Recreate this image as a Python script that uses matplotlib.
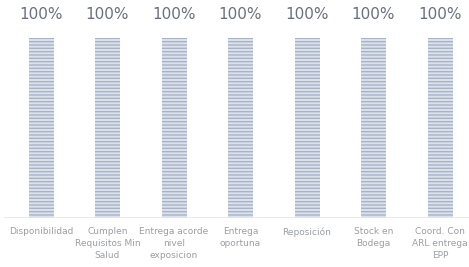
import matplotlib.pyplot as plt

categories = ['Disponibilidad', 'Cumplen\nRequisitos Min\nSalud', 'Entrega acorde\nnivel\nexposicion',
              'Entrega\noportuna', 'Reposición', 'Stock en\nBodega', 'Coord. Con\nARL entrega\nEPP']
values = [1.0, 1.0, 1.0, 1.0, 1.0, 1.0, 1.0]
value_labels = ['100%', '100%', '100%', '100%', '100%', '100%', '100%']

plt.rcParams['hatch.linewidth'] = 1.0

fig = plt.figure(figsize=(4.69, 2.67), dpi=100)
ax = fig.add_axes([0, 1 - 218 / 267, 1, 0.809])

x = range(len(categories))
ax.bar(x, values, width=0.376, color='#dce2ec', edgecolor='#a9b3c6', linewidth=0, hatch='-----')

for i, lab in enumerate(value_labels):
    ax.text(i, 1.128, lab, ha='center', va='center', fontsize=11, color='#6a707d')
    ax.text(i, -0.05, categories[i], ha='center', va='top', fontsize=6.5, color='#9a9ea6',
            linespacing=1.45)

ax.axhline(0, color='#e2e8f0', lw=1.2, xmin=0.01)
ax.set_xlim(-0.617, 6.436)
ax.set_ylim(0, 1.2)
ax.axis('off')

plt.savefig('out.png', dpi=100)
